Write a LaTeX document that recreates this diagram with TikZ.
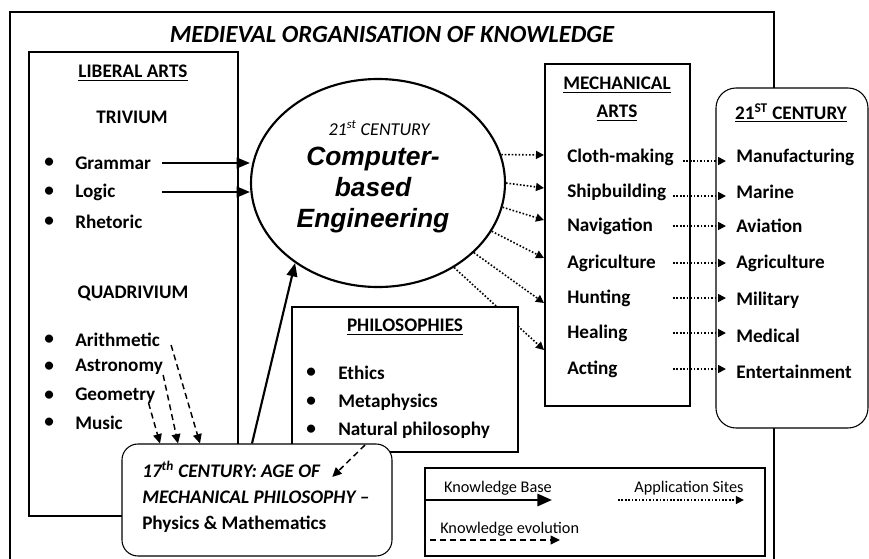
\documentclass[tikz,border=0pt]{standalone}
\usepackage{fontspec}
\setmainfont{Carlito}
\newfontfamily\arialf{Liberation Sans}
\usetikzlibrary{shapes.geometric,arrows.meta}
\begin{document}
\begin{tikzpicture}[x=0.75pt,y=-0.75pt,
  lbl/.style={font=\fontsize{14.4}{16}\selectfont\bfseries, inner sep=0, anchor=west},
  hdr/.style={font=\fontsize{14.4}{16}\selectfont\bfseries, inner sep=0},
  itl/.style={font=\fontsize{14.4}{16}\selectfont\bfseries\itshape, inner sep=0, anchor=west},
  leg/.style={font=\fontsize{12.2}{14}\selectfont, inner sep=0},
  thinbox/.style={draw, line width=0.8pt},
  kb/.style={line width=1.6pt, -{Triangle[length=10pt,width=8pt]}},
  kblong/.style={line width=2.2pt, -{Triangle[length=11pt,width=9pt]}},
  app/.style={line width=1.2pt, dash pattern=on 1.2pt off 1.4pt, -{Triangle[length=6pt,width=6pt]}},
  evo/.style={line width=1.1pt, dash pattern=on 4.5pt off 3pt, -{Triangle[length=7pt,width=6.5pt]}},
]
\path[use as bounding box] (0,0) rectangle (869,558);
\clip (0,0) rectangle (869,558);

% outer frame and title
\draw[thinbox] (10,12) rectangle (774,575);
\node[font=\fontsize{18.5}{21}\selectfont\bfseries\itshape, inner sep=0] (title) at (392,34) {MEDIEVAL ORGANISATION OF KNOWLEDGE};

% liberal arts
\draw[thinbox] (29,52) rectangle (238,516);
\node[hdr] (la) at (133,73) {\underline{LIBERAL ARTS}};
\node[hdr] (triv) at (132,117) {TRIVIUM};
\foreach \yy in {163,192,222,340,367,396,423} \node[lbl] at (44,\yy) {\textbullet};
\node[lbl] (gram) at (75,163) {Grammar};
\node[lbl] (logic) at (75,192) {Logic};
\node[lbl] (rhet) at (75,222) {Rhetoric};
\node[hdr] (quad) at (133,293) {QUADRIVIUM};
\node[lbl] (arith) at (75,340) {Arithmetic};
\node[lbl] (astro) at (75,367) {Astronomy};
\node[lbl] (geom) at (75,396) {Geometry};
\node[lbl] (music) at (75,423) {Music};

% central ellipse
\node[draw, ellipse, line width=1.6pt, minimum width=190.5pt, minimum height=156pt, inner sep=0] (ce) at (378,183) {};
\node[font=\fontsize{13.6}{15}\selectfont\itshape, inner sep=0] (c21) at (379,128) {21\textsuperscript{st} CENTURY};
\node[font=\arialf\fontsize{19.8}{23.5}\selectfont\bfseries\itshape, align=center, inner sep=0] (cbe) at (373,190) {Computer-\\based\\Engineering};

\coordinate (kbx) at (162,0);
\draw[kb] (kbx |- gram) -- (gram -| ce.west);
\draw[kb] (kbx |- logic) -- (logic -| ce.west);

% mechanical arts
\draw[thinbox] (545,64) rectangle (690,406);
\node[hdr] (ma1) at (617,85) {\underline{MECHANICAL}};
\node[hdr] (ma2) at (617,113) {\underline{ARTS}};
\node[lbl] (m1) at (567,157) {Cloth-making};
\node[lbl] (m2) at (567,192) {Shipbuilding};
\node[lbl] (m3) at (567,226) {Navigation};
\node[lbl] (m4) at (567,263) {Agriculture};
\node[lbl] (m5) at (567,298) {Hunting};
\node[lbl] (m6) at (567,333) {Healing};
\node[lbl] (m7) at (567,369) {Acting};

\coordinate (mw) at (544,0);
\draw[app] (ce.13.5) -- (mw |- 0,155);
\draw[app] (ce.0) -- (mw |- 0,188);
\draw[app] (ce.-11) -- (mw |- 0,220);
\draw[app] (ce.-23) -- (mw |- 0,258);
\draw[app] (ce.-36) -- (mw |- 0,303);
\draw[app] (ce.-48.6) -- (mw |- 0,350);

% philosophies
\draw[thinbox, fill=white] (292,307) rectangle (518,452);
\node[hdr] (ph) at (405,327) {\underline{PHILOSOPHIES}};
\foreach \yy in {373,402,430} \node[lbl] at (306,\yy) {\textbullet};
\node[lbl] (p1) at (338,373) {Ethics};
\node[lbl] (p2) at (338,402) {Metaphysics};
\node[lbl] (p3) at (338,430) {Natural philosophy};

% 21st century
\draw[thinbox, fill=white, rounded corners=15pt] (716,88) rectangle (868,428);
\node[hdr] (t21) at (791,113) {\underline{21\textsuperscript{ST} CENTURY}};
\node[lbl] (r1) at (736,157) {Manufacturing};
\node[lbl] (r2) at (736,192) {Marine};
\node[lbl] (r3) at (736,226) {Aviation};
\node[lbl] (r4) at (736,263) {Agriculture};
\node[lbl] (r5) at (736,300) {Military};
\node[lbl] (r6) at (736,336) {Medical};
\node[lbl] (r7) at (736,372) {Entertainment};

\coordinate (ax) at (673,0);
\coordinate (ae) at (726,0);
\draw[app] (683,161) -- (ae |- 0,161);
\draw[app] (ax |- 0,196) -- (ae |- 0,196);
\draw[app] (ax |- m3) -- (ae |- m3);
\draw[app] (ax |- m4) -- (ae |- m4);
\draw[app] (ax |- m5) -- (ae |- m5);
\draw[app] (ax |- m6) -- (ae |- m6);
\draw[app] (ax |- m7) -- (ae |- m7);

% 17th century
\node[draw, line width=0.8pt, fill=white, rounded corners=12pt, minimum width=202.5pt, minimum height=84pt, inner sep=0] (c17) at (257,500) {};
\node[itl] (s1) at (142,469) {17\textsuperscript{th} CENTURY: AGE OF};
\node[itl] (s2) at (142,497) {MECHANICAL PHILOSOPHY –};
\node[lbl] (s3) at (142,524) {Physics \& Mathematics};

\draw[kb] ([shift={(-5,0)}]c17.north) -- (ce.224);

\draw[evo] ([shift={(11,5)}]arith.east) -- ([shift={(-57,0)}]c17.north);
\draw[evo] ([shift={(0,8)}]astro.east) -- ([shift={(-79,0)}]c17.north);
\draw[evo] ([shift={(-7,7)}]geom.east) -- ([shift={(-97,0)}]c17.north);
\draw[evo] ([shift={(27,15)}]p3.west) -- ([shift={(12,8)}]s1.east);

% legend
\draw[thinbox] (425,468) rectangle (765,556);
\node[leg] (lkb) at (498,488) {Knowledge Base};
\node[leg] (las) at (689,488) {Application Sites};
\node[leg, anchor=west] (lke) at (440,529) {Knowledge evolution};
\coordinate (lk1) at (425,500);
\draw[kblong] (lk1) -- (lkb.east |- lk1);
\draw[app] (618,500) -- (las.east |- 0,500);
\draw[evo] (430,540) -- (560,540);
\end{tikzpicture}
\end{document}
